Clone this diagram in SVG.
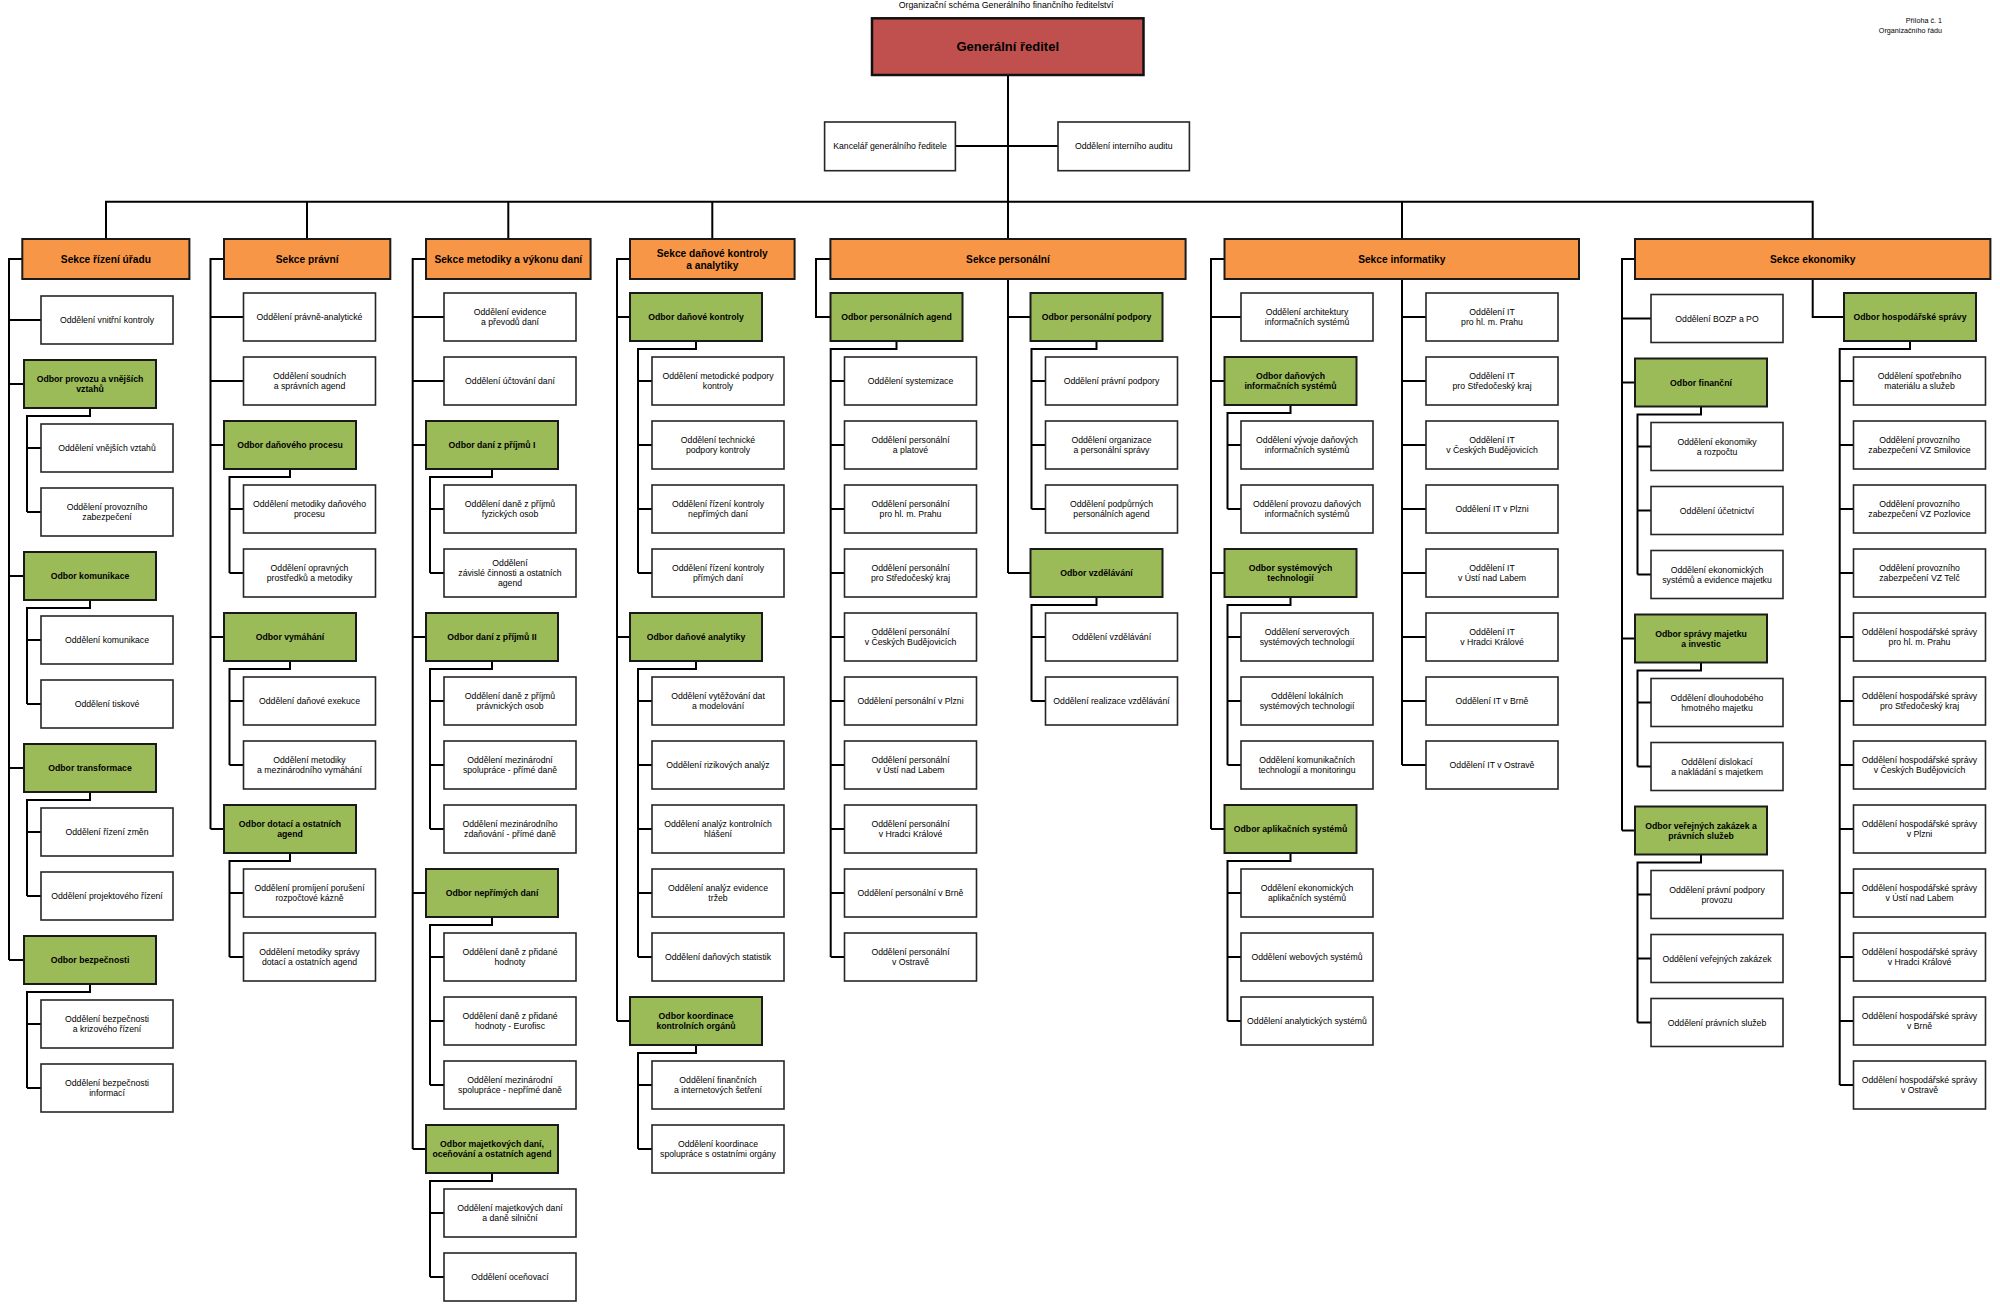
<svg xmlns="http://www.w3.org/2000/svg" width="2000" height="1310" viewBox="0 0 2000 1310">
<style>
text{font-family:"Liberation Sans",Arial,sans-serif;fill:#000}
.n text{font-size:8.7px;text-anchor:middle}
.w rect{fill:#fff;stroke:#262626;stroke-width:1.6}
.g rect{fill:#9BBB59;stroke:#1a1a1a;stroke-width:2}
.g text{font-weight:bold}
.s rect{fill:#F79646;stroke:#1a1a1a;stroke-width:2}
.s text{font-size:10.2px;font-weight:bold;text-anchor:middle}
.r rect{fill:#C0504D;stroke:#111;stroke-width:2.5}
.r text{font-size:13px;font-weight:bold;text-anchor:middle}
#conn path{fill:none;stroke:#000;stroke-width:2}
</style>
<rect width="2000" height="1310" fill="#fff"/>
<text x="1006" y="8" font-size="8.8" text-anchor="middle">Organizační schéma Generálního finančního ředitelství</text>
<text x="1942" y="22.5" font-size="7.2" text-anchor="end">Příloha č. 1</text>
<text x="1942" y="33" font-size="7.2" text-anchor="end">Organizačního řádu</text>

<g id="conn">
<path d="M1008,75 V239 M955.4,146 H1058 M106,239 V201.7 H1812.7 V239 M307,201.7 V239 M508.3,201.7 V239 M712.3,201.7 V239 M1402,201.7 V239"/>
<!-- col1 -->
<path d="M22,259 H9 V960 M9,320 H41 M9,384 H24 M9,576 H24 M9,768 H24 M9,960 H24"/>
<path d="M90,408 V416 H27 V512 M27,448 H41 M27,512 H41 M90,600 V608 H27 V704 M27,640 H41 M27,704 H41 M90,792 V800 H27 V896 M27,832 H41 M27,896 H41 M90,984 V992 H27 V1088 M27,1024 H41 M27,1088 H41"/>
<!-- col2 -->
<path d="M224,259 H210.5 V829 M210.5,317 H243.5 M210.5,381 H243.5 M210.5,445 H224 M210.5,637 H224 M210.5,829 H224"/>
<path d="M290,469 V477 H229.5 V573 M229.5,509 H243.5 M229.5,573 H243.5 M290,661 V669 H229.5 V765 M229.5,701 H243.5 M229.5,765 H243.5 M290,853 V861 H229.5 V957 M229.5,893 H243.5 M229.5,957 H243.5"/>
<!-- col3 -->
<path d="M426,259 H412.7 V1149 M412.7,317 H444 M412.7,381 H444 M412.7,445 H426 M412.7,637 H426 M412.7,893 H426 M412.7,1149 H426"/>
<path d="M492,469 V477 H430 V573 M430,509 H444 M430,573 H444 M492,661 V669 H430 V829 M430,701 H444 M430,765 H444 M430,829 H444 M492,917 V925 H430 V1085 M430,957 H444 M430,1021 H444 M430,1085 H444 M492,1173 V1181 H430 V1277 M430,1213 H444 M430,1277 H444"/>
<!-- col4 -->
<path d="M630,259 H617 V1021 M617,317 H630 M617,637 H630 M617,1021 H630"/>
<path d="M696,341 V349 H638 V573 M638,381 H652 M638,445 H652 M638,509 H652 M638,573 H652 M696,661 V669 H638 V957 M638,701 H652 M638,765 H652 M638,829 H652 M638,893 H652 M638,957 H652 M696,1045 V1053 H638 V1149 M638,1085 H652 M638,1149 H652"/>
<!-- col5 -->
<path d="M830.4,259 H816 V317 H830.5 M896.5,341 V349 H830.7 V957 M830.7,381 H844.5 M830.7,445 H844.5 M830.7,509 H844.5 M830.7,573 H844.5 M830.7,637 H844.5 M830.7,701 H844.5 M830.7,765 H844.5 M830.7,829 H844.5 M830.7,893 H844.5 M830.7,957 H844.5"/>
<path d="M1008,279 V573 M1008,317 H1030.5 M1008,573 H1030.5 M1096.5,341 V349 H1031.5 V509 M1031.5,381 H1045.5 M1031.5,445 H1045.5 M1031.5,509 H1045.5 M1096.5,597 V605 H1031.5 V701 M1031.5,637 H1045.5 M1031.5,701 H1045.5"/>
<!-- col6 -->
<path d="M1224.5,259 H1211 V829 M1211,317 H1241 M1211,381 H1224.5 M1211,573 H1224.5 M1211,829 H1224.5"/>
<path d="M1290.5,405 V413 H1227.5 V509 M1227.5,445 H1241 M1227.5,509 H1241 M1290.5,597 V605 H1227.5 V765 M1227.5,637 H1241 M1227.5,701 H1241 M1227.5,765 H1241 M1290.5,853 V861 H1227.5 V1021 M1227.5,893 H1241 M1227.5,957 H1241 M1227.5,1021 H1241"/>
<path d="M1402,279 V765 M1402,317 H1426 M1402,381 H1426 M1402,445 H1426 M1402,509 H1426 M1402,573 H1426 M1402,637 H1426 M1402,701 H1426 M1402,765 H1426"/>
<!-- col7 -->
<path d="M1635,259 H1622 V830.5 M1622,318.5 H1651 M1622,382.5 H1635 M1622,638.5 H1635 M1622,830.5 H1635"/>
<path d="M1701,406.5 V414.5 H1637.5 V574.5 M1637.5,446.5 H1651 M1637.5,510.5 H1651 M1637.5,574.5 H1651 M1701,662.5 V670.5 H1637.5 V766.5 M1637.5,702.5 H1651 M1637.5,766.5 H1651 M1701,854.5 V862.5 H1637.5 V1022.5 M1637.5,894.5 H1651 M1637.5,958.5 H1651 M1637.5,1022.5 H1651"/>
<path d="M1812.7,279 V317 H1844 M1910,341 V349 H1839.7 V1085 M1839.7,381 H1853.5 M1839.7,445 H1853.5 M1839.7,509 H1853.5 M1839.7,573 H1853.5 M1839.7,637 H1853.5 M1839.7,701 H1853.5 M1839.7,765 H1853.5 M1839.7,829 H1853.5 M1839.7,893 H1853.5 M1839.7,957 H1853.5 M1839.7,1021 H1853.5 M1839.7,1085 H1853.5"/>
</g>

<!-- top -->
<g id="gr" class="r" transform="translate(872,18.3)"><rect width="271.5" height="56.7"/><text x="135.75" y="33">Generální ředitel</text></g>
<g id="kancelar" class="n w" transform="translate(824.6,122)"><rect width="130.8" height="48.7"/><text x="65.4" y="27.3">Kancelář generálního ředitele</text></g>
<g id="audit" class="n w" transform="translate(1058,122)"><rect width="131.4" height="48.7"/><text x="65.7" y="27.3">Oddělení interního auditu</text></g>

<!-- sections -->
<g id="s1" class="s" transform="translate(22.3,239)"><rect width="167.1" height="40"/><text x="83.55" y="23.6">Sekce řízení úřadu</text></g>
<g id="s2" class="s" transform="translate(224,239)"><rect width="166.3" height="40"/><text x="83.15" y="23.6">Sekce právní</text></g>
<g id="s3" class="s" transform="translate(426,239)"><rect width="164.6" height="40"/><text x="82.3" y="23.6">Sekce metodiky a výkonu daní</text></g>
<g id="s4" class="s" transform="translate(630,239)"><rect width="164.6" height="40"/><text x="82.3" y="17.9">Sekce daňové kontroly<tspan x="82.3" dy="12.4">a analytiky</tspan></text></g>
<g id="s5" class="s" transform="translate(830.4,239)"><rect width="355.2" height="40"/><text x="177.6" y="23.6">Sekce personální</text></g>
<g id="s6" class="s" transform="translate(1224.5,239)"><rect width="354.5" height="40"/><text x="177.25" y="23.6">Sekce informatiky</text></g>
<g id="s7" class="s" transform="translate(1635,239)"><rect width="355.4" height="40"/><text x="177.7" y="23.6">Sekce ekonomiky</text></g>

<!-- column 1 -->
<g id="n1-0" class="n w" transform="translate(41,296)"><rect width="132" height="48"/><text x="66" y="27">Oddělení vnitřní kontroly</text></g>
<g id="n1-1" class="n g" transform="translate(24,360)"><rect width="132" height="48"/><text x="66" y="22">Odbor provozu a vnějších<tspan x="66" dy="10">vztahů</tspan></text></g>
<g id="n1-2" class="n w" transform="translate(41,424)"><rect width="132" height="48"/><text x="66" y="27">Oddělení vnějších vztahů</text></g>
<g id="n1-3" class="n w" transform="translate(41,488)"><rect width="132" height="48"/><text x="66" y="22">Oddělení provozního<tspan x="66" dy="10">zabezpečení</tspan></text></g>
<g id="n1-4" class="n g" transform="translate(24,552)"><rect width="132" height="48"/><text x="66" y="27">Odbor komunikace</text></g>
<g id="n1-5" class="n w" transform="translate(41,616)"><rect width="132" height="48"/><text x="66" y="27">Oddělení komunikace</text></g>
<g id="n1-6" class="n w" transform="translate(41,680)"><rect width="132" height="48"/><text x="66" y="27">Oddělení tiskové</text></g>
<g id="n1-7" class="n g" transform="translate(24,744)"><rect width="132" height="48"/><text x="66" y="27">Odbor transformace</text></g>
<g id="n1-8" class="n w" transform="translate(41,808)"><rect width="132" height="48"/><text x="66" y="27">Oddělení řízení změn</text></g>
<g id="n1-9" class="n w" transform="translate(41,872)"><rect width="132" height="48"/><text x="66" y="27">Oddělení projektového řízení</text></g>
<g id="n1-10" class="n g" transform="translate(24,936)"><rect width="132" height="48"/><text x="66" y="27">Odbor bezpečnosti</text></g>
<g id="n1-11" class="n w" transform="translate(41,1000)"><rect width="132" height="48"/><text x="66" y="22">Oddělení bezpečnosti<tspan x="66" dy="10">a krizového řízení</tspan></text></g>
<g id="n1-12" class="n w" transform="translate(41,1064)"><rect width="132" height="48"/><text x="66" y="22">Oddělení bezpečnosti<tspan x="66" dy="10">informací</tspan></text></g>

<!-- column 2 -->
<g id="n2-0" class="n w" transform="translate(243.5,293)"><rect width="132" height="48"/><text x="66" y="27">Oddělení právně-analytické</text></g>
<g id="n2-1" class="n w" transform="translate(243.5,357)"><rect width="132" height="48"/><text x="66" y="22">Oddělení soudních<tspan x="66" dy="10">a správních agend</tspan></text></g>
<g id="n2-2" class="n g" transform="translate(224,421)"><rect width="132" height="48"/><text x="66" y="27">Odbor daňového procesu</text></g>
<g id="n2-3" class="n w" transform="translate(243.5,485)"><rect width="132" height="48"/><text x="66" y="22">Oddělení metodiky daňového<tspan x="66" dy="10">procesu</tspan></text></g>
<g id="n2-4" class="n w" transform="translate(243.5,549)"><rect width="132" height="48"/><text x="66" y="22">Oddělení opravných<tspan x="66" dy="10">prostředků a metodiky</tspan></text></g>
<g id="n2-5" class="n g" transform="translate(224,613)"><rect width="132" height="48"/><text x="66" y="27">Odbor vymáhání</text></g>
<g id="n2-6" class="n w" transform="translate(243.5,677)"><rect width="132" height="48"/><text x="66" y="27">Oddělení daňové exekuce</text></g>
<g id="n2-7" class="n w" transform="translate(243.5,741)"><rect width="132" height="48"/><text x="66" y="22">Oddělení metodiky<tspan x="66" dy="10">a mezinárodního vymáhání</tspan></text></g>
<g id="n2-8" class="n g" transform="translate(224,805)"><rect width="132" height="48"/><text x="66" y="22">Odbor dotací a ostatních<tspan x="66" dy="10">agend</tspan></text></g>
<g id="n2-9" class="n w" transform="translate(243.5,869)"><rect width="132" height="48"/><text x="66" y="22">Oddělení promíjení porušení<tspan x="66" dy="10">rozpočtové kázně</tspan></text></g>
<g id="n2-10" class="n w" transform="translate(243.5,933)"><rect width="132" height="48"/><text x="66" y="22">Oddělení metodiky správy<tspan x="66" dy="10">dotací a ostatních agend</tspan></text></g>

<!-- column 3 -->
<g id="n3-0" class="n w" transform="translate(444,293)"><rect width="132" height="48"/><text x="66" y="22">Oddělení evidence<tspan x="66" dy="10">a převodů daní</tspan></text></g>
<g id="n3-1" class="n w" transform="translate(444,357)"><rect width="132" height="48"/><text x="66" y="27">Oddělení účtování daní</text></g>
<g id="n3-2" class="n g" transform="translate(426,421)"><rect width="132" height="48"/><text x="66" y="27">Odbor daní z příjmů I</text></g>
<g id="n3-3" class="n w" transform="translate(444,485)"><rect width="132" height="48"/><text x="66" y="22">Oddělení daně z příjmů<tspan x="66" dy="10">fyzických osob</tspan></text></g>
<g id="n3-4" class="n w" transform="translate(444,549)"><rect width="132" height="48"/><text x="66" y="17">Oddělení<tspan x="66" dy="10">závislé činnosti a ostatních</tspan><tspan x="66" dy="10">agend</tspan></text></g>
<g id="n3-5" class="n g" transform="translate(426,613)"><rect width="132" height="48"/><text x="66" y="27">Odbor daní z příjmů II</text></g>
<g id="n3-6" class="n w" transform="translate(444,677)"><rect width="132" height="48"/><text x="66" y="22">Oddělení daně z příjmů<tspan x="66" dy="10">právnických osob</tspan></text></g>
<g id="n3-7" class="n w" transform="translate(444,741)"><rect width="132" height="48"/><text x="66" y="22">Oddělení mezinárodní<tspan x="66" dy="10">spolupráce - přímé daně</tspan></text></g>
<g id="n3-8" class="n w" transform="translate(444,805)"><rect width="132" height="48"/><text x="66" y="22">Oddělení mezinárodního<tspan x="66" dy="10">zdaňování - přímé daně</tspan></text></g>
<g id="n3-9" class="n g" transform="translate(426,869)"><rect width="132" height="48"/><text x="66" y="27">Odbor nepřímých daní</text></g>
<g id="n3-10" class="n w" transform="translate(444,933)"><rect width="132" height="48"/><text x="66" y="22">Oddělení daně z přidané<tspan x="66" dy="10">hodnoty</tspan></text></g>
<g id="n3-11" class="n w" transform="translate(444,997)"><rect width="132" height="48"/><text x="66" y="22">Oddělení daně z přidané<tspan x="66" dy="10">hodnoty - Eurofisc</tspan></text></g>
<g id="n3-12" class="n w" transform="translate(444,1061)"><rect width="132" height="48"/><text x="66" y="22">Oddělení mezinárodní<tspan x="66" dy="10">spolupráce - nepřímé daně</tspan></text></g>
<g id="n3-13" class="n g" transform="translate(426,1125)"><rect width="132" height="48"/><text x="66" y="22">Odbor majetkových daní,<tspan x="66" dy="10">oceňování a ostatních agend</tspan></text></g>
<g id="n3-14" class="n w" transform="translate(444,1189)"><rect width="132" height="48"/><text x="66" y="22">Oddělení majetkových daní<tspan x="66" dy="10">a daně silniční</tspan></text></g>
<g id="n3-15" class="n w" transform="translate(444,1253)"><rect width="132" height="48"/><text x="66" y="27">Oddělení oceňovací</text></g>

<!-- column 4 -->
<g id="n4-0" class="n g" transform="translate(630,293)"><rect width="132" height="48"/><text x="66" y="27">Odbor daňové kontroly</text></g>
<g id="n4-1" class="n w" transform="translate(652,357)"><rect width="132" height="48"/><text x="66" y="22">Oddělení metodické podpory<tspan x="66" dy="10">kontroly</tspan></text></g>
<g id="n4-2" class="n w" transform="translate(652,421)"><rect width="132" height="48"/><text x="66" y="22">Oddělení technické<tspan x="66" dy="10">podpory kontroly</tspan></text></g>
<g id="n4-3" class="n w" transform="translate(652,485)"><rect width="132" height="48"/><text x="66" y="22">Oddělení řízení kontroly<tspan x="66" dy="10">nepřímých daní</tspan></text></g>
<g id="n4-4" class="n w" transform="translate(652,549)"><rect width="132" height="48"/><text x="66" y="22">Oddělení řízení kontroly<tspan x="66" dy="10">přímých daní</tspan></text></g>
<g id="n4-5" class="n g" transform="translate(630,613)"><rect width="132" height="48"/><text x="66" y="27">Odbor daňové analytiky</text></g>
<g id="n4-6" class="n w" transform="translate(652,677)"><rect width="132" height="48"/><text x="66" y="22">Oddělení vytěžování dat<tspan x="66" dy="10">a modelování</tspan></text></g>
<g id="n4-7" class="n w" transform="translate(652,741)"><rect width="132" height="48"/><text x="66" y="27">Oddělení rizikových analýz</text></g>
<g id="n4-8" class="n w" transform="translate(652,805)"><rect width="132" height="48"/><text x="66" y="22">Oddělení analýz kontrolních<tspan x="66" dy="10">hlášení</tspan></text></g>
<g id="n4-9" class="n w" transform="translate(652,869)"><rect width="132" height="48"/><text x="66" y="22">Oddělení analýz evidence<tspan x="66" dy="10">tržeb</tspan></text></g>
<g id="n4-10" class="n w" transform="translate(652,933)"><rect width="132" height="48"/><text x="66" y="27">Oddělení daňových statistik</text></g>
<g id="n4-11" class="n g" transform="translate(630,997)"><rect width="132" height="48"/><text x="66" y="22">Odbor koordinace<tspan x="66" dy="10">kontrolních orgánů</tspan></text></g>
<g id="n4-12" class="n w" transform="translate(652,1061)"><rect width="132" height="48"/><text x="66" y="22">Oddělení finančních<tspan x="66" dy="10">a internetových šetření</tspan></text></g>
<g id="n4-13" class="n w" transform="translate(652,1125)"><rect width="132" height="48"/><text x="66" y="22">Oddělení koordinace<tspan x="66" dy="10">spolupráce s ostatními orgány</tspan></text></g>

<!-- column 5 -->
<g id="n5-0" class="n g" transform="translate(830.5,293)"><rect width="132" height="48"/><text x="66" y="27">Odbor personálních agend</text></g>
<g id="n5-1" class="n w" transform="translate(844.5,357)"><rect width="132" height="48"/><text x="66" y="27">Oddělení systemizace</text></g>
<g id="n5-2" class="n w" transform="translate(844.5,421)"><rect width="132" height="48"/><text x="66" y="22">Oddělení personální<tspan x="66" dy="10">a platové</tspan></text></g>
<g id="n5-3" class="n w" transform="translate(844.5,485)"><rect width="132" height="48"/><text x="66" y="22">Oddělení personální<tspan x="66" dy="10">pro hl. m. Prahu</tspan></text></g>
<g id="n5-4" class="n w" transform="translate(844.5,549)"><rect width="132" height="48"/><text x="66" y="22">Oddělení personální<tspan x="66" dy="10">pro Středočeský kraj</tspan></text></g>
<g id="n5-5" class="n w" transform="translate(844.5,613)"><rect width="132" height="48"/><text x="66" y="22">Oddělení personální<tspan x="66" dy="10">v Českých Budějovicích</tspan></text></g>
<g id="n5-6" class="n w" transform="translate(844.5,677)"><rect width="132" height="48"/><text x="66" y="27">Oddělení personální v Plzni</text></g>
<g id="n5-7" class="n w" transform="translate(844.5,741)"><rect width="132" height="48"/><text x="66" y="22">Oddělení personální<tspan x="66" dy="10">v Ústí nad Labem</tspan></text></g>
<g id="n5-8" class="n w" transform="translate(844.5,805)"><rect width="132" height="48"/><text x="66" y="22">Oddělení personální<tspan x="66" dy="10">v Hradci Králové</tspan></text></g>
<g id="n5-9" class="n w" transform="translate(844.5,869)"><rect width="132" height="48"/><text x="66" y="27">Oddělení personální v Brně</text></g>
<g id="n5-10" class="n w" transform="translate(844.5,933)"><rect width="132" height="48"/><text x="66" y="22">Oddělení personální<tspan x="66" dy="10">v Ostravě</tspan></text></g>
<g id="n5r-0" class="n g" transform="translate(1030.5,293)"><rect width="132" height="48"/><text x="66" y="27">Odbor personální podpory</text></g>
<g id="n5r-1" class="n w" transform="translate(1045.5,357)"><rect width="132" height="48"/><text x="66" y="27">Oddělení právní podpory</text></g>
<g id="n5r-2" class="n w" transform="translate(1045.5,421)"><rect width="132" height="48"/><text x="66" y="22">Oddělení organizace<tspan x="66" dy="10">a personální správy</tspan></text></g>
<g id="n5r-3" class="n w" transform="translate(1045.5,485)"><rect width="132" height="48"/><text x="66" y="22">Oddělení podpůrných<tspan x="66" dy="10">personálních agend</tspan></text></g>
<g id="n5r-4" class="n g" transform="translate(1030.5,549)"><rect width="132" height="48"/><text x="66" y="27">Odbor vzdělávání</text></g>
<g id="n5r-5" class="n w" transform="translate(1045.5,613)"><rect width="132" height="48"/><text x="66" y="27">Oddělení vzdělávání</text></g>
<g id="n5r-6" class="n w" transform="translate(1045.5,677)"><rect width="132" height="48"/><text x="66" y="27">Oddělení realizace vzdělávání</text></g>

<!-- column 6 -->
<g id="n6-0" class="n w" transform="translate(1241,293)"><rect width="132" height="48"/><text x="66" y="22">Oddělení architektury<tspan x="66" dy="10">informačních systémů</tspan></text></g>
<g id="n6-1" class="n g" transform="translate(1224.5,357)"><rect width="132" height="48"/><text x="66" y="22">Odbor daňových<tspan x="66" dy="10">informačních systémů</tspan></text></g>
<g id="n6-2" class="n w" transform="translate(1241,421)"><rect width="132" height="48"/><text x="66" y="22">Oddělení vývoje daňových<tspan x="66" dy="10">informačních systémů</tspan></text></g>
<g id="n6-3" class="n w" transform="translate(1241,485)"><rect width="132" height="48"/><text x="66" y="22">Oddělení provozu daňových<tspan x="66" dy="10">informačních systémů</tspan></text></g>
<g id="n6-4" class="n g" transform="translate(1224.5,549)"><rect width="132" height="48"/><text x="66" y="22">Odbor systémových<tspan x="66" dy="10">technologií</tspan></text></g>
<g id="n6-5" class="n w" transform="translate(1241,613)"><rect width="132" height="48"/><text x="66" y="22">Oddělení serverových<tspan x="66" dy="10">systémových technologií</tspan></text></g>
<g id="n6-6" class="n w" transform="translate(1241,677)"><rect width="132" height="48"/><text x="66" y="22">Oddělení lokálních<tspan x="66" dy="10">systémových technologií</tspan></text></g>
<g id="n6-7" class="n w" transform="translate(1241,741)"><rect width="132" height="48"/><text x="66" y="22">Oddělení komunikačních<tspan x="66" dy="10">technologií a monitoringu</tspan></text></g>
<g id="n6-8" class="n g" transform="translate(1224.5,805)"><rect width="132" height="48"/><text x="66" y="27">Odbor aplikačních systémů</text></g>
<g id="n6-9" class="n w" transform="translate(1241,869)"><rect width="132" height="48"/><text x="66" y="22">Oddělení ekonomických<tspan x="66" dy="10">aplikačních systémů</tspan></text></g>
<g id="n6-10" class="n w" transform="translate(1241,933)"><rect width="132" height="48"/><text x="66" y="27">Oddělení webových systémů</text></g>
<g id="n6-11" class="n w" transform="translate(1241,997)"><rect width="132" height="48"/><text x="66" y="27">Oddělení analytických systémů</text></g>
<g id="n6r-0" class="n w" transform="translate(1426,293)"><rect width="132" height="48"/><text x="66" y="22">Oddělení IT<tspan x="66" dy="10">pro hl. m. Prahu</tspan></text></g>
<g id="n6r-1" class="n w" transform="translate(1426,357)"><rect width="132" height="48"/><text x="66" y="22">Oddělení IT<tspan x="66" dy="10">pro Středočeský kraj</tspan></text></g>
<g id="n6r-2" class="n w" transform="translate(1426,421)"><rect width="132" height="48"/><text x="66" y="22">Oddělení IT<tspan x="66" dy="10">v Českých Budějovicích</tspan></text></g>
<g id="n6r-3" class="n w" transform="translate(1426,485)"><rect width="132" height="48"/><text x="66" y="27">Oddělení IT v Plzni</text></g>
<g id="n6r-4" class="n w" transform="translate(1426,549)"><rect width="132" height="48"/><text x="66" y="22">Oddělení IT<tspan x="66" dy="10">v Ústí nad Labem</tspan></text></g>
<g id="n6r-5" class="n w" transform="translate(1426,613)"><rect width="132" height="48"/><text x="66" y="22">Oddělení IT<tspan x="66" dy="10">v Hradci Králové</tspan></text></g>
<g id="n6r-6" class="n w" transform="translate(1426,677)"><rect width="132" height="48"/><text x="66" y="27">Oddělení IT v Brně</text></g>
<g id="n6r-7" class="n w" transform="translate(1426,741)"><rect width="132" height="48"/><text x="66" y="27">Oddělení IT v Ostravě</text></g>

<!-- column 7 -->
<g id="n7-0" class="n w" transform="translate(1651,294.5)"><rect width="132" height="48"/><text x="66" y="27">Oddělení BOZP a PO</text></g>
<g id="n7-1" class="n g" transform="translate(1635,358.5)"><rect width="132" height="48"/><text x="66" y="27">Odbor finanční</text></g>
<g id="n7-2" class="n w" transform="translate(1651,422.5)"><rect width="132" height="48"/><text x="66" y="22">Oddělení ekonomiky<tspan x="66" dy="10">a rozpočtu</tspan></text></g>
<g id="n7-3" class="n w" transform="translate(1651,486.5)"><rect width="132" height="48"/><text x="66" y="27">Oddělení účetnictví</text></g>
<g id="n7-4" class="n w" transform="translate(1651,550.5)"><rect width="132" height="48"/><text x="66" y="22">Oddělení ekonomických<tspan x="66" dy="10">systémů a evidence majetku</tspan></text></g>
<g id="n7-5" class="n g" transform="translate(1635,614.5)"><rect width="132" height="48"/><text x="66" y="22">Odbor správy majetku<tspan x="66" dy="10">a investic</tspan></text></g>
<g id="n7-6" class="n w" transform="translate(1651,678.5)"><rect width="132" height="48"/><text x="66" y="22">Oddělení dlouhodobého<tspan x="66" dy="10">hmotného majetku</tspan></text></g>
<g id="n7-7" class="n w" transform="translate(1651,742.5)"><rect width="132" height="48"/><text x="66" y="22">Oddělení dislokací<tspan x="66" dy="10">a nakládání s majetkem</tspan></text></g>
<g id="n7-8" class="n g" transform="translate(1635,806.5)"><rect width="132" height="48"/><text x="66" y="22">Odbor veřejných zakázek a<tspan x="66" dy="10">právních služeb</tspan></text></g>
<g id="n7-9" class="n w" transform="translate(1651,870.5)"><rect width="132" height="48"/><text x="66" y="22">Oddělení právní podpory<tspan x="66" dy="10">provozu</tspan></text></g>
<g id="n7-10" class="n w" transform="translate(1651,934.5)"><rect width="132" height="48"/><text x="66" y="27">Oddělení veřejných zakázek</text></g>
<g id="n7-11" class="n w" transform="translate(1651,998.5)"><rect width="132" height="48"/><text x="66" y="27">Oddělení právních služeb</text></g>
<g id="n7r-0" class="n g" transform="translate(1844,293)"><rect width="132" height="48"/><text x="66" y="27">Odbor hospodářské správy</text></g>
<g id="n7r-1" class="n w" transform="translate(1853.5,357)"><rect width="132" height="48"/><text x="66" y="22">Oddělení spotřebního<tspan x="66" dy="10">materiálu a služeb</tspan></text></g>
<g id="n7r-2" class="n w" transform="translate(1853.5,421)"><rect width="132" height="48"/><text x="66" y="22">Oddělení provozního<tspan x="66" dy="10">zabezpečení VZ Smilovice</tspan></text></g>
<g id="n7r-3" class="n w" transform="translate(1853.5,485)"><rect width="132" height="48"/><text x="66" y="22">Oddělení provozního<tspan x="66" dy="10">zabezpečení VZ Pozlovice</tspan></text></g>
<g id="n7r-4" class="n w" transform="translate(1853.5,549)"><rect width="132" height="48"/><text x="66" y="22">Oddělení provozního<tspan x="66" dy="10">zabezpečení VZ Telč</tspan></text></g>
<g id="n7r-5" class="n w" transform="translate(1853.5,613)"><rect width="132" height="48"/><text x="66" y="22">Oddělení hospodářské správy<tspan x="66" dy="10">pro hl. m. Prahu</tspan></text></g>
<g id="n7r-6" class="n w" transform="translate(1853.5,677)"><rect width="132" height="48"/><text x="66" y="22">Oddělení hospodářské správy<tspan x="66" dy="10">pro Středočeský kraj</tspan></text></g>
<g id="n7r-7" class="n w" transform="translate(1853.5,741)"><rect width="132" height="48"/><text x="66" y="22">Oddělení hospodářské správy<tspan x="66" dy="10">v Českých Budějovicích</tspan></text></g>
<g id="n7r-8" class="n w" transform="translate(1853.5,805)"><rect width="132" height="48"/><text x="66" y="22">Oddělení hospodářské správy<tspan x="66" dy="10">v Plzni</tspan></text></g>
<g id="n7r-9" class="n w" transform="translate(1853.5,869)"><rect width="132" height="48"/><text x="66" y="22">Oddělení hospodářské správy<tspan x="66" dy="10">v Ústí nad Labem</tspan></text></g>
<g id="n7r-10" class="n w" transform="translate(1853.5,933)"><rect width="132" height="48"/><text x="66" y="22">Oddělení hospodářské správy<tspan x="66" dy="10">v Hradci Králové</tspan></text></g>
<g id="n7r-11" class="n w" transform="translate(1853.5,997)"><rect width="132" height="48"/><text x="66" y="22">Oddělení hospodářské správy<tspan x="66" dy="10">v Brně</tspan></text></g>
<g id="n7r-12" class="n w" transform="translate(1853.5,1061)"><rect width="132" height="48"/><text x="66" y="22">Oddělení hospodářské správy<tspan x="66" dy="10">v Ostravě</tspan></text></g>
</svg>
